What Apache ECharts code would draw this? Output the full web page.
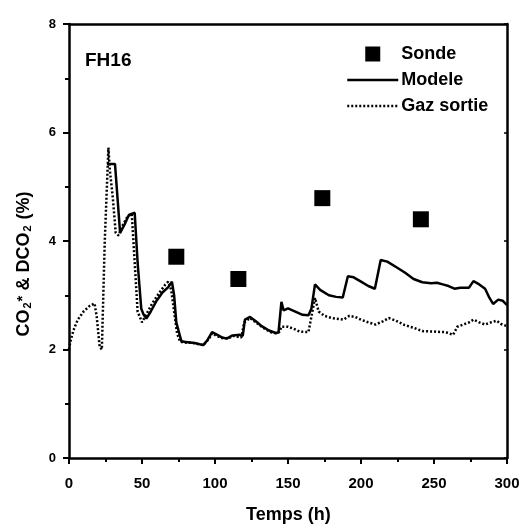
<!DOCTYPE html>
<html>
<head>
<meta charset="utf-8">
<script src="https://cdn.jsdelivr.net/npm/echarts@6/dist/echarts.min.js"></script>
<style>
  html, body { margin: 0; padding: 0; background: #fff; }
  #chart { width: 523px; height: 524px; }
</style>
</head>
<body>
<div id="chart"></div>
<script>
// Probe measurements (Sonde)
const sondeHours = [73.5, 116, 173.5, 241];
const sondeValues = [3.71, 3.30, 4.79, 4.40];

// Model curve (Modele)
const modelHours = [26, 31.5, 35, 38, 41, 45, 47, 49.5, 51, 53, 56, 60, 64, 68, 70.5, 72, 73.5, 75, 77, 80, 86, 92, 95, 98, 101, 105, 108, 112, 117, 119, 120.5, 124, 128, 132, 137, 142, 143.5, 145.5, 147, 150, 155, 160, 164, 166, 168.5, 172, 178, 183, 187.5, 191, 195, 200, 205, 209.5, 213.5, 218, 224, 230, 236, 242, 248, 252, 256, 260, 264, 268, 274, 277, 281, 285, 288, 290.5, 294, 297, 300];
const modelValues = [5.42, 5.42, 4.15, 4.30, 4.48, 4.52, 3.60, 2.75, 2.65, 2.57, 2.70, 2.90, 3.05, 3.15, 3.25, 3.00, 2.50, 2.35, 2.15, 2.14, 2.12, 2.08, 2.18, 2.32, 2.28, 2.22, 2.20, 2.26, 2.27, 2.25, 2.55, 2.60, 2.52, 2.43, 2.35, 2.30, 2.32, 2.88, 2.72, 2.76, 2.70, 2.64, 2.63, 2.75, 3.20, 3.10, 3.00, 2.97, 2.96, 3.35, 3.33, 3.25, 3.17, 3.12, 3.65, 3.62, 3.52, 3.42, 3.30, 3.24, 3.22, 3.23, 3.20, 3.17, 3.12, 3.14, 3.14, 3.26, 3.20, 3.12, 2.95, 2.84, 2.92, 2.90, 2.82];

// Exhaust gas measurement (Gaz sortie)
const gazHours = [0, 1, 3, 6, 10, 14, 17.5, 19, 21, 22.5, 24.5, 27, 28, 30, 32, 34, 37, 40, 43, 45, 47, 50, 53, 57, 62, 66, 68, 70, 72, 74, 76, 78, 85, 92, 96, 98, 101, 106, 110, 113, 118, 120, 124, 128, 133, 138, 142, 144, 145.5, 150, 154, 158, 164, 166, 168.5, 171, 175, 180, 188, 192, 196, 200, 205, 210, 215, 219, 224, 230, 236, 242, 250, 258, 263, 266, 270, 274, 277, 281, 285, 289, 293, 296, 300];
const gazValues = [2.00, 2.15, 2.35, 2.55, 2.70, 2.80, 2.85, 2.60, 2.05, 2.00, 4.00, 5.72, 5.30, 4.80, 4.15, 4.10, 4.30, 4.45, 4.50, 3.60, 2.70, 2.50, 2.65, 2.85, 3.05, 3.20, 3.25, 3.10, 2.70, 2.30, 2.15, 2.13, 2.12, 2.08, 2.20, 2.30, 2.25, 2.20, 2.22, 2.25, 2.22, 2.50, 2.58, 2.50, 2.40, 2.32, 2.30, 2.32, 2.42, 2.42, 2.38, 2.33, 2.32, 2.60, 2.95, 2.70, 2.62, 2.58, 2.55, 2.62, 2.60, 2.55, 2.50, 2.46, 2.52, 2.58, 2.53, 2.45, 2.40, 2.34, 2.33, 2.32, 2.27, 2.42, 2.46, 2.50, 2.55, 2.50, 2.46, 2.50, 2.53, 2.47, 2.43];

const xTicks = [0, 50, 100, 150, 200, 250, 300];
const yTicks = [0, 2, 4, 6, 8];

const pairs = (xs, ys) => xs.map((x, i) => [x, ys[i]]);
const FONT = '"Liberation Sans", Arial, sans-serif';
const DOTS = [2, 2];

const chart = echarts.init(document.getElementById('chart'), null, { renderer: 'canvas' });

chart.setOption({
  animation: false,
  backgroundColor: '#fff',
  textStyle: { fontFamily: FONT },
  grid: { left: 69, right: 16, top: 24, bottom: 66 },
  xAxis: [
    {
      type: 'value', min: xTicks[0], max: xTicks[xTicks.length - 1], interval: 50,
      axisLine: { lineStyle: { color: '#000', width: 2.5 } },
      axisTick: { show: true, inside: false, length: 6, lineStyle: { color: '#000', width: 2 } },
      minorTick: { show: true, splitNumber: 2, length: 4, lineStyle: { color: '#000', width: 2 } },
      splitLine: { show: false },
      axisLabel: { color: '#000', fontSize: 15, fontWeight: 'bold', fontFamily: FONT, margin: 18 }
    },
    {
      type: 'value', position: 'top', min: 0, max: 300, interval: 50,
      axisLine: { show: true, onZero: false, lineStyle: { color: '#000', width: 2.5 } },
      axisTick: { show: false }, axisLabel: { show: false }, splitLine: { show: false }
    }
  ],
  yAxis: [
    {
      type: 'value', min: yTicks[0], max: yTicks[yTicks.length - 1], interval: 2,
      axisLine: { show: true, lineStyle: { color: '#000', width: 2.5 } },
      axisTick: { show: true, inside: false, length: 6, lineStyle: { color: '#000', width: 2 } },
      minorTick: { show: true, splitNumber: 2, length: 4, lineStyle: { color: '#000', width: 2 } },
      splitLine: { show: false },
      axisLabel: { color: '#000', fontSize: 13, fontWeight: 'bold', fontFamily: FONT, margin: 13 }
    },
    {
      type: 'value', position: 'right', min: 0, max: 8, interval: 2,
      axisLine: { show: true, onZero: false, lineStyle: { color: '#000', width: 2.5 } },
      axisTick: { show: true, inside: true, length: 3, lineStyle: { color: '#000', width: 1.5 } },
      axisLabel: { show: false }, splitLine: { show: false }
    }
  ],
  legend: {
    orient: 'vertical',
    left: 346, top: 45,
    padding: 0,
    itemWidth: 51, itemHeight: 15, itemGap: 8,
    symbolKeepAspect: true,
    textStyle: { color: '#000', fontSize: 18, fontWeight: 'bold', fontFamily: FONT, padding: [0, 0, 0, -2] },
    data: [
      { name: 'Sonde', icon: 'path://M0,0L10,0L10,10L0,10Z', itemStyle: { color: '#000', opacity: 1 } },
      { name: 'Modele', itemStyle: { opacity: 0 }, lineStyle: { color: '#000', width: 2.5, opacity: 1 } },
      { name: 'Gaz sortie', itemStyle: { opacity: 0 }, lineStyle: { color: '#000', width: 2.5, type: DOTS, opacity: 1 } }
    ]
  },
  graphic: [
    {
      type: 'text', left: 85, top: 51,
      style: { text: 'FH16', fill: '#000', font: 'bold 19px ' + FONT }
    },
    {
      type: 'text', left: 246, top: 506,
      style: { text: 'Temps (h)', fill: '#000', font: 'bold 18px ' + FONT }
    },
    {
      type: 'text',
      x: 24, y: 264, rotation: Math.PI / 2,
      style: {
        text: 'CO{sub|2}{sup|*} & DCO{sub|2} (%)',
        fill: '#000',
        font: 'bold 18px ' + FONT,
        align: 'center', verticalAlign: 'middle',
        rich: {
          sub: { fontSize: 11, fontWeight: 'bold', fontFamily: FONT, verticalAlign: 'bottom', lineHeight: 11, padding: [0, 1, 0, 1] },
          sup: { fontSize: 15, fontWeight: 'bold', fontFamily: FONT, verticalAlign: 'top', lineHeight: 12 }
        }
      }
    }
  ],
  series: [
    {
      name: 'Gaz sortie', type: 'line', xAxisIndex: 0, yAxisIndex: 0,
      data: pairs(gazHours, gazValues),
      symbol: 'none', smooth: false,
      lineStyle: { color: '#000', width: 2.5, type: DOTS },
      itemStyle: { color: '#000' }, z: 2
    },
    {
      name: 'Modele', type: 'line', xAxisIndex: 0, yAxisIndex: 0,
      data: pairs(modelHours, modelValues),
      symbol: 'none', smooth: false,
      lineStyle: { color: '#000', width: 2.5 },
      itemStyle: { color: '#000' }, z: 3
    },
    {
      name: 'Sonde', type: 'scatter', xAxisIndex: 0, yAxisIndex: 0,
      data: pairs(sondeHours, sondeValues),
      symbol: 'rect', symbolSize: 16,
      itemStyle: { color: '#000', opacity: 1 }, z: 4
    }
  ]
});
</script>
</body>
</html>
